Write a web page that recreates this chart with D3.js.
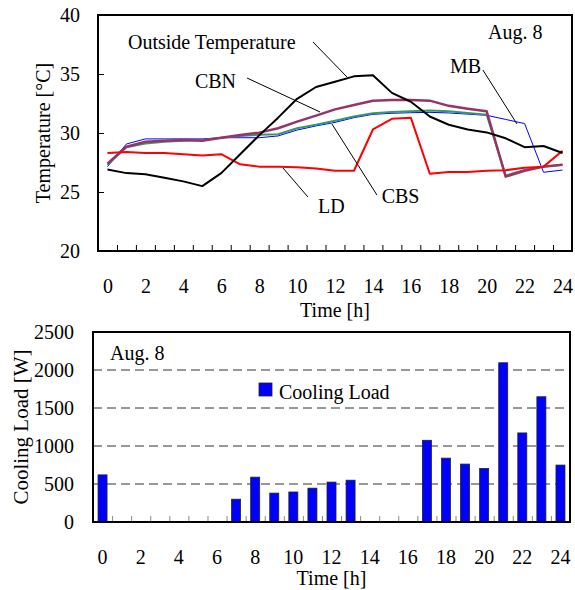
<!DOCTYPE html>
<html>
<head>
<meta charset="utf-8">
<script src="https://cdn.jsdelivr.net/npm/d3@7"></script>
<style>
  body { margin: 0; background: #fff; }
  svg text { font-family: "Liberation Serif", "Times New Roman", serif; fill: #000; }
</style>
</head>
<body>
<svg id="chart" width="575" height="590"></svg>
<script>

var hours = [0,1,2,3,4,5,6,7,8,9,10,11,12,13,14,15,16,17,18,19,20,21,22,23,24];
var hourLabels = [0,2,4,6,8,10,12,14,16,18,20,22,24];
var tempTicks = [20,25,30,35,40];
var loadTicks = [0,500,1000,1500,2000,2500];

var outsideTemp = [26.9,26.6,26.5,26.2,25.9,25.5,26.6,28.2,29.8,31.3,32.9,33.9,34.35,34.8,34.9,33.4,32.65,31.4,30.7,30.3,30.05,29.55,28.8,28.9,28.3];
var ldTemp  = [28.3,28.4,28.3,28.3,28.2,28.1,28.2,27.35,27.15,27.15,27.1,27.0,26.8,26.8,30.3,31.2,31.3,26.55,26.7,26.7,26.8,26.85,27.05,27.15,28.5];
var mbTemp  = [27.15,29.07,29.5,29.5,29.5,29.5,29.6,29.6,29.6,29.75,30.25,30.6,30.9,31.3,31.58,31.67,31.72,31.75,31.7,31.6,31.5,31.15,30.8,26.67,26.86];
var cbsTemp = [27.3,28.8,29.1,29.26,29.35,29.4,29.6,29.75,29.85,29.9,30.4,30.7,31.04,31.4,31.67,31.78,31.84,31.9,31.84,31.7,31.55,26.4,26.86,27.15,27.3];
var cbnTemp = [27.4,28.84,29.26,29.35,29.4,29.35,29.6,29.83,30.03,30.4,30.96,31.47,32.0,32.37,32.74,32.8,32.8,32.74,32.3,32.06,31.84,26.3,26.8,27.15,27.3];

var coolingLoad = [620,0,0,0,0,0,0,300,590,380,395,445,525,550,0,0,0,1075,840,762,705,2095,1172,1648,749];

var svg = d3.select("#chart");
var fontSize = 20;

// ---------- top chart: temperatures ----------

var top1 = {left: 98, right: 572, top: 15, bottom: 251};

var xT = d3.scalePoint()
    .domain(hours)
    .range([top1.left, top1.right])
    .padding(0.5);

var xTb = d3.scaleLinear()  // category boundaries, for the tick marks
    .domain([0, hours.length])
    .range([top1.left, top1.right]);

var yT = d3.scaleLinear()
    .domain([20, 40])
    .range([top1.bottom, top1.top]);

var gTop = svg.append("g");

gTop.append("g")
    .attr("transform", "translate(0," + top1.bottom + ")")
    .call(d3.axisBottom(xTb).ticks(hours.length).tickSize(-6).tickFormat(""))
    .call(function(g) { g.select(".domain").remove(); })
    .selectAll("line").attr("stroke", "#000");

gTop.append("g")
    .attr("transform", "translate(0," + top1.bottom + ")")
    .call(d3.axisBottom(xT).tickValues(hourLabels).tickSize(0).tickPadding(28))
    .call(function(g) { g.select(".domain").remove(); })
    .selectAll("text").style("font-size", fontSize + "px");

gTop.append("g")
    .attr("transform", "translate(" + top1.left + ",0)")
    .call(d3.axisLeft(yT).tickValues(tempTicks).tickSize(-6).tickPadding(18))
    .call(function(g) { g.select(".domain").remove(); })
    .call(function(g) { g.selectAll("line").attr("stroke", "#000"); })
    .selectAll("text").style("font-size", fontSize + "px");

var line = d3.line()
    .x(function(d, i) { return xT(hours[i]); })
    .y(function(d) { return yT(d); });

var series = [
  {name: "MB",  values: mbTemp,  color: "#0000ff", width: 1},
  {name: "CBS", values: cbsTemp, color: "#339966", width: 2},
  {name: "CBN", values: cbnTemp, color: "#993366", width: 2.5},
  {name: "LD",  values: ldTemp,  color: "#ff0000", width: 2},
  {name: "Outside", values: outsideTemp, color: "#000000", width: 2}
];

gTop.selectAll(".series")
    .data(series)
    .enter()
    .append("path")
      .classed("series", true)
      .attr("fill", "none")
      .attr("stroke", function(d) { return d.color; })
      .attr("stroke-width", function(d) { return d.width; })
      .attr("stroke-linejoin", "round")
      .attr("d", function(d) { return line(d.values); });

// labels with leader lines, placed in (hour, temperature) units
var labels = [
  {text: "Outside Temperature", tx: 1.08, ty: 37.09, from: [10.84, 37.71], to: [12.63, 34.75]},
  {text: "CBN", tx: 4.61, ty: 33.79, from: [7.36, 34.66], to: [11.21, 31.78]},
  {text: "CBS", tx: 14.46, ty: 24.04, from: [14.21, 24.75], to: [11.84, 30.76]},
  {text: "LD",  tx: 11.1, ty: 23.19, from: [10.57, 24.58], to: [9.26, 27.03]},
  {text: "MB",  tx: 18.06, ty: 35.06, from: [19.8, 35.34], to: [21.6, 30.76]},
  {text: "Aug. 8", tx: 20.07, ty: 37.97}
];

function hx(h) { return xT(0) + h * xT.step(); }

labels.forEach(function(l) {
  if (l.from) {
    gTop.append("line")
        .attr("x1", hx(l.from[0])).attr("y1", yT(l.from[1]))
        .attr("x2", hx(l.to[0])).attr("y2", yT(l.to[1]))
        .attr("stroke", "#000").attr("stroke-width", 1);
  }
  gTop.append("text")
      .attr("x", hx(l.tx)).attr("y", yT(l.ty))
      .style("font-size", fontSize + "px")
      .text(l.text);
});

gTop.append("rect")
    .attr("x", top1.left).attr("y", top1.top)
    .attr("width", top1.right - top1.left).attr("height", top1.bottom - top1.top)
    .attr("fill", "none").attr("stroke", "#000").attr("stroke-width", 2);

gTop.append("text")
    .attr("x", (top1.left + top1.right) / 2).attr("y", 317)
    .attr("text-anchor", "middle")
    .style("font-size", fontSize + "px")
    .text("Time [h]");

gTop.append("text")
    .attr("transform", "translate(50," + (top1.top + top1.bottom) / 2 + ") rotate(-90)")
    .attr("text-anchor", "middle")
    .style("font-size", fontSize + "px")
    .text("Temperature [°C]");

// ---------- bottom chart: cooling load ----------

var bot = {left: 93, right: 570, top: 332, bottom: 522};

var xL = d3.scaleBand()
    .domain(hours)
    .range([bot.left, bot.right]);

var xLb = d3.scaleLinear()
    .domain([0, hours.length])
    .range([bot.left, bot.right]);

var yL = d3.scaleLinear()
    .domain([0, 2500])
    .range([bot.bottom, bot.top]);

var gBot = svg.append("g");

gBot.append("g")
    .attr("transform", "translate(" + bot.left + ",0)")
    .call(d3.axisLeft(yL).tickValues(loadTicks).tickFormat(d3.format("d")).tickSize(0).tickPadding(19))
    .call(function(g) { g.select(".domain").remove(); })
    .selectAll("text").style("font-size", fontSize + "px");

gBot.append("g")
    .selectAll("line")
    .data(loadTicks.slice(1, -1))
    .enter()
    .append("line")
      .attr("x1", bot.left).attr("x2", bot.right)
      .attr("y1", function(d) { return yL(d); })
      .attr("y2", function(d) { return yL(d); })
      .attr("stroke", "#333").attr("stroke-width", 1)
      .attr("stroke-dasharray", "9,5");

gBot.append("g")
    .attr("transform", "translate(0," + bot.bottom + ")")
    .call(d3.axisBottom(xLb).ticks(hours.length).tickSize(-6).tickFormat(""))
    .call(function(g) { g.select(".domain").remove(); })
    .selectAll("line").attr("stroke", "#888");

var barW = 9;
gBot.selectAll(".bar")
    .data(coolingLoad.map(function(v, i) { return {hour: hours[i], value: v}; })
      .filter(function(d) { return d.value > 0; }))
    .enter()
    .append("rect")
      .classed("bar", true)
      .attr("x", function(d) { return xL(d.hour) + (xL.bandwidth() - barW) / 2; })
      .attr("width", barW)
      .attr("y", function(d) { return yL(d.value); })
      .attr("height", function(d) { return yL(0) - yL(d.value); })
      .attr("fill", "#0000ff")
      .attr("stroke", "#222")
      .attr("stroke-width", 0.8);

gBot.append("g")
    .attr("transform", "translate(0," + bot.bottom + ")")
    .call(d3.axisBottom(xL).tickValues(hourLabels).tickSize(0).tickPadding(28))
    .call(function(g) { g.select(".domain").remove(); })
    .selectAll("text").style("font-size", fontSize + "px");

gBot.append("rect")
    .attr("x", bot.left).attr("y", bot.top)
    .attr("width", bot.right - bot.left).attr("height", bot.bottom - bot.top)
    .attr("fill", "none").attr("stroke", "#000").attr("stroke-width", 2);

// legend
gBot.append("rect")
    .attr("x", 259).attr("y", 383).attr("width", 13).attr("height", 13)
    .attr("fill", "#0000ff").attr("stroke", "#222").attr("stroke-width", 0.8);
gBot.append("text")
    .attr("x", 279).attr("y", 399)
    .style("font-size", fontSize + "px")
    .text("Cooling Load");

gBot.append("text")
    .attr("x", 110).attr("y", 360)
    .style("font-size", fontSize + "px")
    .text("Aug. 8");

gBot.append("text")
    .attr("x", (bot.left + bot.right) / 2).attr("y", 585)
    .attr("text-anchor", "middle")
    .style("font-size", fontSize + "px")
    .text("Time [h]");

gBot.append("text")
    .attr("transform", "translate(27.5," + (bot.top + bot.bottom) / 2 + ") rotate(-90)")
    .attr("text-anchor", "middle")
    .style("font-size", "21px")
    .text("Cooling Load [W]");
</script>
</body>
</html>
